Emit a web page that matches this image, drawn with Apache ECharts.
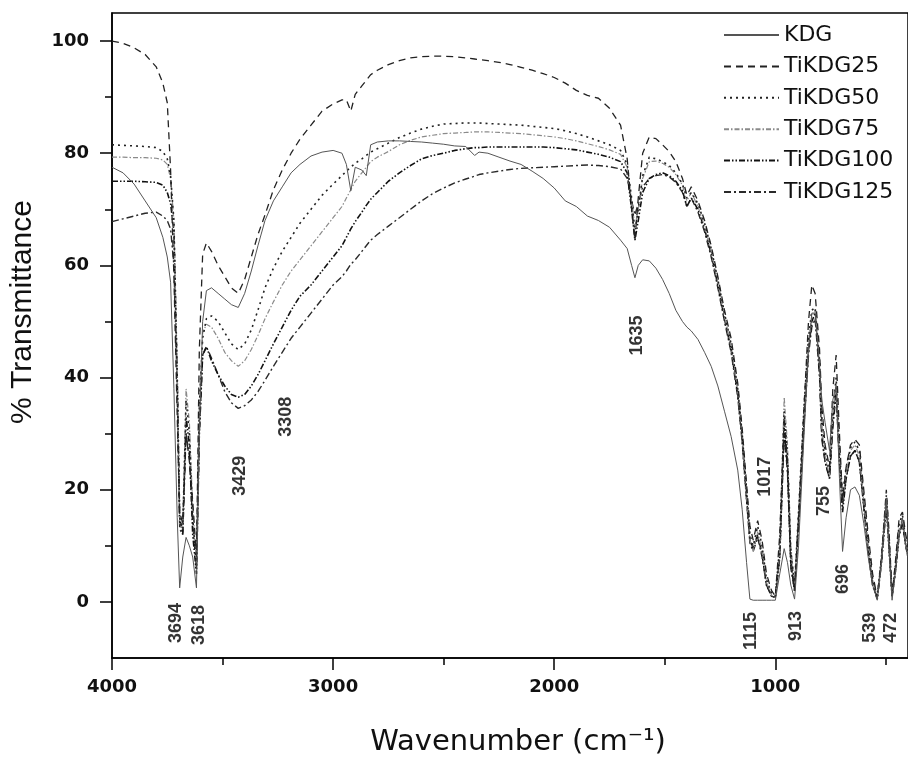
<!DOCTYPE html>
<html><head><meta charset="utf-8">
<script src="https://cdn.jsdelivr.net/npm/echarts@6/dist/echarts.min.js"></script>
<style>html,body{margin:0;padding:0;background:#fff}#c{width:908px;height:760px}</style>
</head><body><div id="c"></div>
<script>
// ---- data ----
const wavenumbers = [4000,3950,3900,3850,3800,3770,3750,3735,3720,3705,
 3694,3680,3665,3650,3635,3618,3605,3590,3573,3550,
 3520,3490,3460,3429,3400,3370,3340,3308,3270,3230,
 3190,3150,3100,3050,3000,2960,2940,2920,2900,2870,
 2850,2830,2800,2750,2700,2650,2600,2550,2500,2450,
 2400,2360,2340,2300,2250,2200,2150,2100,2050,2000,
 1950,1900,1850,1800,1750,1700,1670,1650,1635,1620,
 1600,1570,1540,1510,1480,1450,1420,1400,1380,1350,
 1320,1290,1260,1230,1200,1170,1150,1130,1115,1100,
 1080,1060,1040,1017,1000,980,960,945,930,913,
 895,870,850,835,820,800,790,775,755,740,
 725,710,696,680,660,640,620,600,580,560,
 539,520,498,485,472,455,440,425,410,400];

const seriesNames = ['KDG','TiKDG25','TiKDG50','TiKDG75','TiKDG100','TiKDG125'];

const kdg = [77.5,76.5,74.5,71.5,68.5,65,61.5,57,38,15,
 2.5,8,11.5,10,8,2.5,30,50,55.5,56,
 55,54,53,52.5,55,59,63.5,68,71.5,74,
 76.5,78,79.5,80.2,80.5,80,78,73.3,77.5,77,
 76,81.5,82,82.2,82.2,82.1,82,81.8,81.6,81.3,
 81.2,79.6,80.2,80,79.3,78.6,78,76.8,75.5,73.8,
 71.5,70.5,68.8,68,66.8,64.5,63,60,57.8,60,
 61,60.8,59.5,57.5,55,52,50,49,48.3,46.8,
 44.5,42,38.5,34,29.5,23.5,16.5,7,0.5,0.3,
 0.3,0.3,0.3,0.3,0.3,5,9.5,7,3,0.5,
 10,30,45,51.5,51.5,42,36,32,27,36,
 38.5,22,9,15,20,20.5,19,14,8,3,
 0.3,7,18.5,9,0.3,6,12,15,10,8];

const tikdg25 = [100,99.6,98.8,97.6,95.4,92.5,89,77,58,33,
 16,14,30,25,18,8,45,62,64,62.5,
 60,58,56,55,57.5,61.5,65.5,69,73.5,77,
 80,82.5,85,87.5,88.8,89.5,89.5,87.5,90.5,92,
 93,94,94.8,95.8,96.5,97,97.2,97.3,97.3,97.2,
 97,96.8,96.7,96.5,96.2,95.8,95.3,94.8,94.2,93.5,
 92.5,91.2,90.3,89.8,88,85,79,70,64.5,72,
 80,82.9,82.6,81.5,80.3,78.5,75.5,72.5,74,71.5,
 68,63.5,58,52,47,39,31,21,13.5,11,
 14.5,11,5,2,1,12,33,25,8,2,
 15,35,50,56.5,55,45,35,28,24,38,
 44,30,18,24,28,29,28,20,12,5,
 0.8,8,20,12,1,8,15,16,12,10];

const tikdg50 = [81.5,81.4,81.3,81.2,81,80.3,79,76,68,40,
 15,13,36,30,15,6,35,47,50.5,51,
 50,48,46,45,46,48.5,52,56,59.5,62.5,
 65,67.5,70,72.5,74.5,76,76.8,77.5,78.2,79,
 79.6,80.2,80.8,81.8,82.8,83.6,84.3,84.8,85.2,85.3,
 85.4,85.4,85.4,85.3,85.2,85.1,85,84.8,84.6,84.4,
 84,83.5,82.9,82.2,81.5,80.5,78,72,65.7,70,
 76,79.3,79,78.5,77.8,76.5,74.5,72,73,71,
 67.5,63,57.5,51.5,46,38,30,20,12,10,
 13.5,10,4,1.5,1,10,34,26,9,3,
 16,35,47,52,52.5,43,33,27,23,34,
 40,27,19,24,27.5,28.5,27,19,11,4,
 1,8,19,11,1.5,7,14,15.5,11,9];

const tikdg75 = [79.3,79.3,79.2,79.2,79.1,78.8,78,75.5,68,40,
 14,13,38,32,17,7,35,48,49.5,49,
 47,44.5,43,42,43,45,47.5,50.5,53.5,56.5,
 59,61,63.5,66,68.5,70.5,72,73.5,75,76.5,
 77.5,78.5,79.3,80.3,81.5,82.3,82.9,83.2,83.5,83.6,
 83.7,83.8,83.8,83.8,83.7,83.6,83.5,83.3,83.1,82.9,
 82.6,82.2,81.7,81.2,80.6,79.8,77.5,71.5,66.8,70,
 75.5,78.5,78.6,78.2,77.5,76.2,74.3,71.5,73,70.5,
 67,62.5,57,51,45.5,37.5,29.5,19,11,9,
 12.5,9,3.5,1.2,0.8,9,36.5,28,10,3,
 16,34,46,51,52,42,31,26,22.5,33,
 39,26,18,23,27,28,26,18,10,4,
 1,7.5,18,10,1.5,7,13,15,10.5,8.5];

const tikdg100 = [75,75,75,74.9,74.8,74.3,73,71,66,40,
 15,12,33,28,12,5,30,44,45.5,43,
 40.5,38.5,37,36.5,37,38.5,40.5,43,46,49,
 52,54.5,56.5,59,61.5,63.5,65,66.5,67.8,69.5,
 70.7,71.8,73,75,76.5,77.8,79,79.6,80,80.5,
 80.8,81,81,81.1,81.1,81.1,81.1,81.1,81.1,81,
 80.8,80.6,80.2,79.8,79.3,78.5,76.5,70,64.5,68,
 73,75.5,76.2,76.5,76,75,73.3,70.5,72,70,
 66.5,62,56.5,50.5,45,37,29,18.5,11,9.5,
 12,8.5,3,1,0.8,8,31,24,7,2,
 14,32,45,50,51.5,41,30,25,22,32,
 38,25,16,22,26,27,25,17,9,3,
 0.5,7,17,9,1,6,12,14,10,8];

const tikdg125 = [67.8,68.3,68.8,69.3,69.5,68.8,68,66.5,60,38,
 13,12,30,26,14,6,30,44,45.5,43.5,
 40.5,37.5,35.5,34.5,35,36,37.5,39.5,42,44.5,
 47,49,51.5,54,56.5,58,59,60.2,61,62.5,
 63.5,64.5,65.5,67,68.5,70,71.5,72.8,73.8,74.7,
 75.4,75.9,76.2,76.5,76.8,77.1,77.3,77.4,77.5,77.6,
 77.7,77.8,77.9,77.8,77.6,77.2,75.5,71.5,69,71,
 74,75.5,76,76.2,75.8,74.8,73,70.5,72,69.5,
 66,61.5,56,50,44.5,36.5,28.5,18,10.5,9,
 11.5,8,3,1,0.8,8,30,23,6,2,
 14,32,44,49,50.5,40,29,25,22,31,
 37,25,17,22,26,27,25,17,9,3,
 0.8,7,17.5,9,1,6,12,14,10,8];

const xMajorTicks = [4000,3000,2000,1000];
const xMinorTicks = [3500,2500,1500,500];
const yMajorTicks = [0,20,40,60,80,100];
const yMinorTicks = [10,30,50,70,90];

const annotationTexts = ['3694','3618','3429','3308','1635','1017','1115','913','755','696','539','472'];
const annotationWavenumbers = [3711,3608,3423,3211,1627,1046,1111,908,779,694,570,479];
const annotationLevels = [-3.75,-4.1,22.5,33,47.5,22.3,-5.2,-4.3,18,4.1,-4.6,-4.6];

// ---- chart ----
const seriesValues = [kdg, tikdg25, tikdg50, tikdg75, tikdg100, tikdg125];
const styles = [
  {color:'#555', width:1, type:'solid'},
  {color:'#222', width:1.3, type:[7,5]},
  {color:'#222', width:1.6, type:[2,4]},
  {color:'#8a8a8a', width:1.2, type:[5,2,1.5,2]},
  {color:'#111', width:1.6, type:[6,2,1.5,2,1.5,2]},
  {color:'#2a2a2a', width:1.4, type:[7,3,2,3]}
];

const lineSeries = seriesNames.map((name, k) => ({
  name: name,
  type: 'line',
  xAxisIndex: 0, yAxisIndex: 0,
  symbol: 'none',
  smooth: false,
  z: 10 - k,
  lineStyle: styles[k],
  itemStyle: {color: styles[k].color},
  data: wavenumbers.map((w, i) => [w, seriesValues[k][i]])
}));

const annotationSeries = {
  type: 'scatter',
  xAxisIndex: 0, yAxisIndex: 0,
  symbolSize: 1,
  silent: true,
  itemStyle: {color: 'transparent'},
  z: 20,
  data: annotationTexts.map((t, i) => ({
    value: [annotationWavenumbers[i], annotationLevels[i]],
    label: {formatter: t}
  })),
  label: {
    show: true, position: 'inside', rotate: 90,
    fontFamily: 'Liberation Sans', fontWeight: 'bold', fontSize: 18, color: '#000'
  }
};

const tickLabelStyle = {fontFamily: 'DejaVu Sans', fontWeight: 'bold', fontSize: 18, color: '#111'};
const plainNumber = v => String(v);

const chart = echarts.init(document.getElementById('c'), null, {renderer: 'canvas'});
chart.setOption({
  animation: false,
  backgroundColor: '#fff',
  grid: {left: 112, right: -2, top: 13, bottom: 102, show: true, borderColor: '#000', borderWidth: 1.5, backgroundColor: 'transparent'},
  legend: {
    data: seriesNames,
    orient: 'vertical',
    left: 718, top: 19,
    itemWidth: 55, itemHeight: 14, itemGap: 9.4,
    itemStyle: {opacity: 0},
    textStyle: {fontFamily: 'DejaVu Sans', fontSize: 22, color: '#111', lineHeight: 22}
  },
  xAxis: [
    {type: 'value', min: 400, max: 4000, inverse: true, position: 'bottom',
     axisLine: {show: true, onZero: false, lineStyle: {color: '#000', width: 1.5}},
     axisTick: {show: true, length: 12, customValues: xMajorTicks, lineStyle: {color: '#000', width: 1.5}},
     axisLabel: Object.assign({show: true, customValues: xMajorTicks, margin: 20, formatter: plainNumber}, tickLabelStyle),
     splitLine: {show: false}},
    {type: 'value', min: 400, max: 4000, inverse: true, position: 'bottom', offset: 0,
     axisLine: {show: false, onZero: false},
     axisTick: {show: true, length: 7, customValues: xMinorTicks, lineStyle: {color: '#000', width: 1.5}},
     axisLabel: {show: false},
     splitLine: {show: false}}
  ],
  yAxis: [
    {type: 'value', min: -10, max: 105, position: 'left',
     axisLine: {show: true, onZero: false, lineStyle: {color: '#000', width: 1.5}},
     axisTick: {show: true, length: 12, customValues: yMajorTicks, lineStyle: {color: '#000', width: 1.5}},
     axisLabel: Object.assign({show: true, customValues: yMajorTicks, margin: 23, formatter: plainNumber}, tickLabelStyle),
     splitLine: {show: false}},
    {type: 'value', min: -10, max: 105, position: 'left', offset: 0,
     axisLine: {show: false, onZero: false},
     axisTick: {show: true, length: 7, customValues: yMinorTicks, lineStyle: {color: '#000', width: 1.5}},
     axisLabel: {show: false},
     splitLine: {show: false}}
  ],
  graphic: [
    {type: 'text', x: 23, y: 312, rotation: Math.PI / 2,
     style: {text: '% Transmittance', fontFamily: 'Liberation Sans', fontSize: 30, fill: '#111', align: 'center', verticalAlign: 'middle'}},
    {type: 'text', x: 518, y: 742,
     style: {text: 'Wavenumber (cm\u207B\u00B9)', fontFamily: 'DejaVu Sans', fontSize: 29, fill: '#111', align: 'center', verticalAlign: 'middle'}}
  ],
  series: lineSeries.concat([annotationSeries])
});
</script></body></html>
